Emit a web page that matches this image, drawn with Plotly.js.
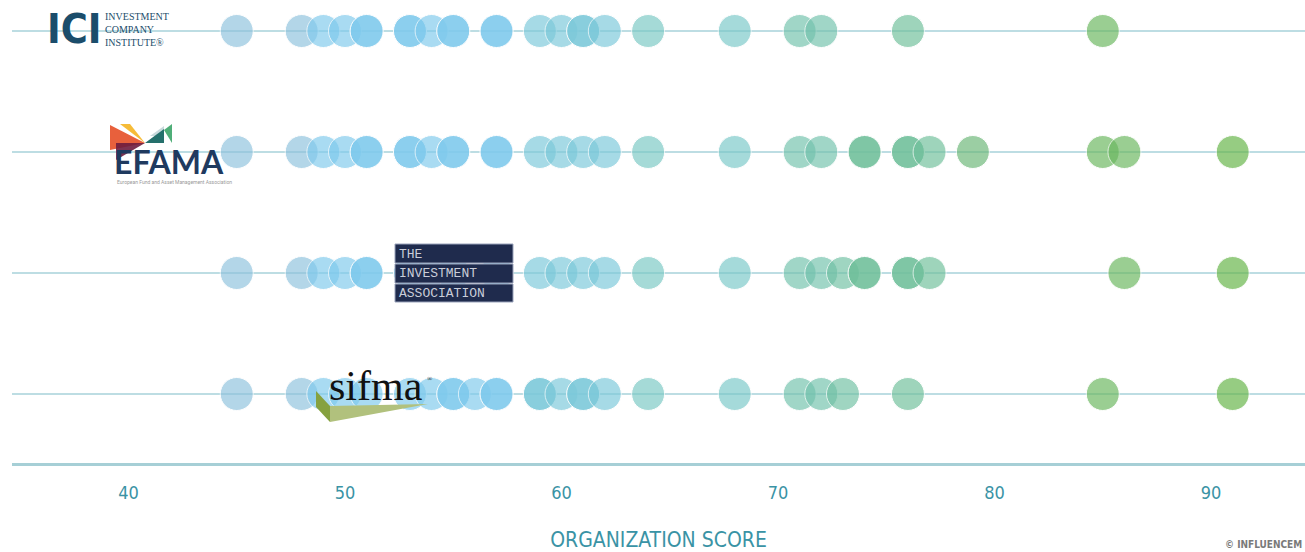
<!DOCTYPE html>
<html>
<head>
<meta charset="utf-8">
<script src="https://cdn.plot.ly/plotly-3.0.1.min.js"></script>
<style>html,body{margin:0;padding:0;background:#fff;}#chart{width:1305px;height:552px;}</style>
</head>
<body>
<div id="chart"></div>
<script>
// ---- data (organization scores; repeated values = stacked circles) ----
const categories = ['ICI', 'EFAMA', 'The Investment Association', 'SIFMA'];
const iciScores   = [45,48,49,50,51,51,53,53,54,55,55,57,57,59,60,61,61,62,64,68,71,72,76,85];
const efamaScores = [45,48,49,50,51,51,53,53,54,55,55,57,57,59,60,61,62,64,68,71,72,74,74,76,76,77,79,85,86,91];
const iaScores    = [45,48,49,50,51,51,53,53,54,55,55,57,57,59,60,61,62,64,68,71,72,73,74,74,76,76,77,86,91];
const sifmaScores = [45,48,49,50,51,53,54,55,55,56,57,57,59,59,60,61,61,62,64,68,71,72,73,76,85,91];
const tickValues = [40, 50, 60, 70, 80, 90];
const tickLabels = ['40', '50', '60', '70', '80', '90'];
const axisTitle = 'ORGANIZATION SCORE';
const creditText = '© INFLUENCEM';

// ---- styles ----
const colorScale = [
  [0.000, '#8ec2dd'], [0.065, '#8ec2dd'], [0.087, '#7fcaed'], [0.261, '#7fcaed'],
  [0.304, '#7cc9da'], [0.370, '#7cc9da'], [0.413, '#7ac9c4'], [0.500, '#7ac8c8'],
  [0.565, '#73c2ad'], [0.587, '#73c2ad'], [0.630, '#70c09b'], [0.696, '#70c09b'],
  [0.739, '#6bb777'], [0.870, '#6ab75e'], [0.891, '#6ab75e'], [1.000, '#64b446']
];
const NARROW = '"Liberation Sans Narrow", "DejaVu Sans Condensed", Roboto, sans-serif';
const TEAL = '#3a93a5';

// plot area in pixels (for placing the logo decorations)
const PL = 12, PW = 1293, PH = 463;
const fx = p => (p - PL) / PW;
const fy = p => (PH - p) / PH;
const path = pts => 'M' + pts.map(p => fx(p[0]).toFixed(5) + ',' + fy(p[1]).toFixed(5)).join(' L') + ' Z';

const series = [iciScores, efamaScores, iaScores, sifmaScores];
const traces = series.map((scores, i) => ({
  type: 'scatter',
  mode: 'markers',
  name: categories[i],
  x: scores,
  y: scores.map(() => categories[i]),
  cliponaxis: false,
  hoverinfo: 'x+name',
  marker: {
    size: 33,
    color: scores,
    colorscale: colorScale,
    cmin: 45, cmax: 91,
    opacity: 0.67,
    line: {color: '#ffffff', width: 1}
  }
}));

function ann(px, py, text, font, extra) {
  return Object.assign({
    xref: 'paper', yref: 'paper', x: fx(px), y: fy(py), text: text,
    showarrow: false, xanchor: 'left', yanchor: 'middle', align: 'left', font: font
  }, extra || {});
}

const annotations = [
  // ICI logo
  ann(45, 29, '<b>ICI</b>', {family: NARROW, size: 41, color: '#1b4d6b'}),
  ann(103, 29, 'INVESTMENT<br>COMPANY<br>INSTITUTE®', {family: '"Liberation Serif", serif', size: 10, color: '#1b4d6b'}),
  // EFAMA logo
  ann(112, 161, '<b>EFAMA</b>', {family: 'Lato, "Open Sans", sans-serif', size: 32, color: '#1f3a5f'}),
  ann(115, 182, 'European Fund and Asset Management Association', {family: 'Roboto, sans-serif', size: 5, color: '#9a9a9a'}),
  // The Investment Association logo
  ann(397, 254, 'THE', {family: '"Liberation Mono", "DejaVu Sans Mono", monospace', size: 13, color: '#c9cdd9'}),
  ann(397, 273, 'INVESTMENT', {family: '"Liberation Mono", "DejaVu Sans Mono", monospace', size: 13, color: '#c9cdd9'}),
  ann(397, 293, 'ASSOCIATION', {family: '"Liberation Mono", "DejaVu Sans Mono", monospace', size: 13, color: '#c9cdd9'}),
  // sifma logo
  ann(327, 386, 'sifma', {family: '"Liberation Serif", serif', size: 42, color: '#111111'}),
  ann(425, 379, '®', {family: '"Liberation Serif", serif', size: 7, color: '#111111'}),
  // credit
  ann(1304, 544, '<b>' + creditText + '</b>', {family: NARROW, size: 10, color: '#7a7a7a'}, {xanchor: 'right'})
];

const shapes = [
  // EFAMA mark
  {type: 'path', xref: 'paper', yref: 'paper', layer: 'above', line: {width: 0}, fillcolor: '#e8603c', path: path([[110,125],[145,143],[110,150]])},
  {type: 'path', xref: 'paper', yref: 'paper', layer: 'above', line: {width: 0}, fillcolor: 'rgba(246,184,46,0.95)', path: path([[120,124],[130,124],[145,143]])},
  {type: 'path', xref: 'paper', yref: 'paper', layer: 'above', line: {width: 0}, fillcolor: 'rgba(110,28,62,0.9)', path: path([[116,143],[145,143],[116,160]])},
  {type: 'path', xref: 'paper', yref: 'paper', layer: 'above', line: {width: 0}, fillcolor: '#c9d9dc', path: path([[150,136],[164,126],[164,136]])},
  {type: 'path', xref: 'paper', yref: 'paper', layer: 'above', line: {width: 0}, fillcolor: '#25706c', path: path([[145,143],[164,129],[164,143]])},
  {type: 'path', xref: 'paper', yref: 'paper', layer: 'above', line: {width: 0}, fillcolor: '#4fae78', path: path([[164,130],[172,124],[172,143]])},
  // The Investment Association box
  {type: 'rect', xref: 'paper', yref: 'paper', layer: 'above', fillcolor: '#1f2b4d', line: {color: '#9aa3bb', width: 1}, x0: fx(395), x1: fx(513), y0: fy(263), y1: fy(244)},
  {type: 'rect', xref: 'paper', yref: 'paper', layer: 'above', fillcolor: '#1f2b4d', line: {color: '#9aa3bb', width: 1}, x0: fx(395), x1: fx(513), y0: fy(283), y1: fy(264)},
  {type: 'rect', xref: 'paper', yref: 'paper', layer: 'above', fillcolor: '#1f2b4d', line: {color: '#9aa3bb', width: 1}, x0: fx(395), x1: fx(513), y0: fy(302), y1: fy(284)},
  // sifma wedge
  {type: 'path', xref: 'paper', yref: 'paper', layer: 'above', line: {width: 0}, fillcolor: '#86a13f', path: path([[316,391],[330,406],[330,422],[316,407]])},
  {type: 'path', xref: 'paper', yref: 'paper', layer: 'above', line: {width: 0}, fillcolor: '#b1c17d', path: path([[330,406],[428,404],[330,422]])}
];

const layout = {
  width: 1305, height: 552,
  margin: {l: PL, r: 0, t: 0, b: 552 - PH, pad: 0},
  paper_bgcolor: '#ffffff', plot_bgcolor: '#ffffff',
  showlegend: false,
  xaxis: {
    range: [34.62, 94.34],
    tickvals: tickValues, ticktext: tickLabels,
    ticks: 'outside', ticklen: 12, tickcolor: 'rgba(0,0,0,0)',
    tickfont: {family: NARROW, size: 18, color: TEAL},
    showgrid: false, zeroline: false,
    showline: true, linecolor: '#a6cfd6', linewidth: 2.5,
    title: {text: axisTitle, font: {family: NARROW, size: 21, color: TEAL}, standoff: 30},
    fixedrange: true
  },
  yaxis: {
    type: 'category',
    categoryorder: 'array',
    categoryarray: categories.slice().reverse(),
    range: [-0.5702, 3.2562],
    showticklabels: false, ticks: '',
    showgrid: true, gridcolor: '#bddde3', gridwidth: 2,
    zeroline: false, showline: false,
    fixedrange: true
  },
  annotations: annotations,
  shapes: shapes
};

Plotly.newPlot('chart', traces, layout, {displayModeBar: false, staticPlot: true});
</script>
</body>
</html>
